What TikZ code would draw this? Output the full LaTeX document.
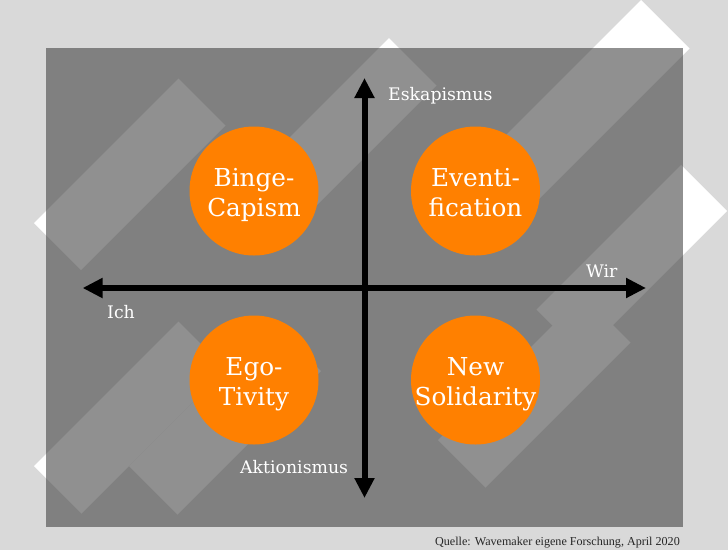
\documentclass[tikz,border=0pt]{standalone}
\usepackage{fontspec}
\setmainfont{DejaVu Serif}
\newfontfamily\capfont{Liberation Serif}
\usetikzlibrary{arrows.meta}
\definecolor{bgc}{RGB}{217,217,217}
\definecolor{rectc}{RGB}{70,70,70}
\definecolor{orangec}{RGB}{255,128,0}
\tikzset{
  band/.style={fill=white},
  panel/.style={fill=rectc, fill opacity=0.6},
  blob/.style={circle, fill=orangec, minimum size=129pt, inner sep=0pt},
  blobtext/.style={text=white, align=center, inner sep=0pt, font=\fontsize{24.7}{30}\selectfont},
  axislabel/.style={text=white, inner sep=0pt, font=\fontsize{17.3}{20}\selectfont},
  axis/.style={line width=6pt, draw=black, {Triangle[length=20pt,width=19pt]}-{Triangle[length=20pt,width=19pt]}}
}
\begin{document}
\begin{tikzpicture}[x=1pt,y=-1pt]
\useasboundingbox (0,0) rectangle (728,550);
\fill[bgc] (0,0) rectangle (728,550);
% Wavemaker bands
\fill[band] (34,223) -- (178.5,78.5) -- (225.5,125.5) -- (81,270) -- cycle;
\fill[band] (243.5,183.5) -- (389,38) -- (436.5,85.5) -- (291,231) -- cycle;
\fill[band] (485.5,155.5) -- (641,0) -- (689.5,48.5) -- (534,204) -- cycle;
\fill[band] (536.5,309.5) -- (681,165) -- (727,211) -- (582.5,355.5) -- cycle;
\fill[band] (438,440) -- (583,295) -- (630.5,342.5) -- (485.5,487.5) -- cycle;
\fill[band] (34,466) -- (178.5,321.5) -- (226,369) -- (81.5,513.5) -- cycle;
\fill[band] (129,466) -- (272.5,322.5) -- (321,371) -- (177.5,514.5) -- cycle;
% panel
\fill[panel] (46,48) rectangle (683,527);
% axes
\coordinate (hl) at (82.6,288);
\coordinate (hr) at (646,288);
\coordinate (vt) at (364.5,78);
\coordinate (vb) at (364.5,498);
\draw[axis] (hl) -- (hr);
\draw[axis] (vb) -- (vt);
% circles
\node[blob] (binge) at (254,191) {};
\node[blob] (event) at (475.5,191) {};
\node[blob] (ego) at (254,380) {};
\node[blob] (newsol) at (475.5,380) {};
\node[blobtext] (bingeT) at ([yshift=-4pt]binge.center) {\strut Binge-\\\strut Capism};
\node[blobtext] (eventT) at ([yshift=-4pt]event.center) {\strut Eventi-\\\strut fication};
\node[blobtext] (egoT) at ([yshift=-4pt]ego.center) {\strut Ego-\\\strut Tivity};
\node[blobtext] (newsolT) at ([yshift=-4pt]newsol.center) {\strut New\\\strut Solidarity};
% axis labels
\node[axislabel, anchor=base west] (esk) at (388,100) {Eskapismus};
\node[axislabel, anchor=base west] (wir) at (586,277) {Wir};
\node[axislabel, anchor=base west] (ich) at (107,318) {Ich};
\node[axislabel, anchor=base west] (akt) at (240,473) {Aktionismus};
% caption
\node[anchor=base east, inner sep=0pt, text=black!85, font=\capfont\fontsize{12.1}{14}\selectfont] (cap) at (680,545) {Quelle: Wavemaker eigene Forschung, April 2020};
\end{tikzpicture}
\end{document}
